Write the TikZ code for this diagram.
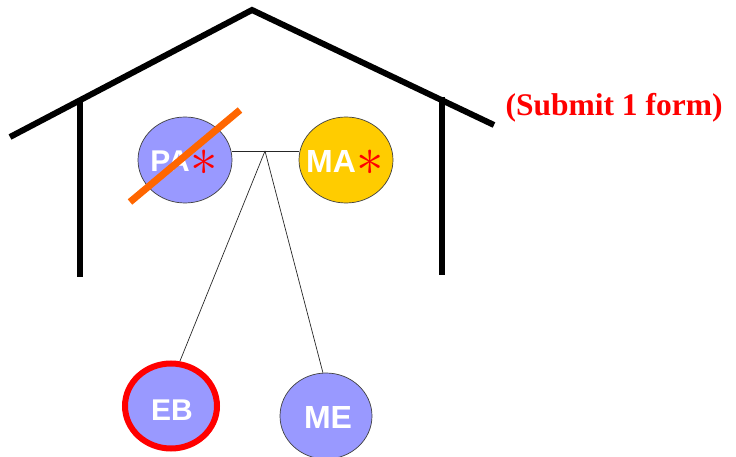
\documentclass[tikz,border=0pt]{standalone}
\usepackage{fontspec}
\setmainfont{Liberation Sans}
\newfontfamily\timesbold{Liberation Serif}[BoldFont={* Bold}]
\usetikzlibrary{shapes.geometric}
\definecolor{lav}{HTML}{9999FF}
\definecolor{gold}{HTML}{FFCC00}
\definecolor{slash}{HTML}{FF6600}
\begin{document}
\begin{tikzpicture}[x=1pt,y=-1pt,
  member/.style={ellipse, draw=black!75, line width=0.7pt, fill=lav, inner sep=0pt},
  lbl/.style={text=white, inner sep=0pt},
  star/.style={text=red, inner sep=0pt, font=\fontsize{24}{24}\selectfont, scale=2.2},
  wall/.style={line width=6pt},
  link/.style={line width=0.7pt, draw=black!85}]
\useasboundingbox (0,0) rectangle (736,457);
% house
\coordinate (rl) at (10,137);
\coordinate (rt) at (252,10);
\coordinate (rr) at (494,125);
\draw[wall, line join=miter] (rl) -- (rt) -- (rr);
\coordinate (lwt) at (80,100);
\coordinate (lwb) at (80,277);
\coordinate (rwt) at (442,97);
\coordinate (rwb) at (442,275);
\draw[wall] (lwt) -- (lwb);
\draw[wall] (rwt) -- (rwb);
% members
\node[member, minimum width=94pt, minimum height=86pt] (pa) at (185,160) {};
\node[member, fill=gold, minimum width=94pt, minimum height=86pt] (ma) at (346,160) {};
\node[member, draw=red, line width=6pt, minimum width=92pt, minimum height=85pt] (eb) at (171,406) {};
\node[member, minimum width=92pt, minimum height=86pt] (me) at (326,416) {};
% labels
\node[lbl, font=\fontsize{30}{30}\selectfont\bfseries] (patxt) at (170,161) {PA};
\node[star] (past) at (204,163) {$\ast$};
\node[lbl, font=\fontsize{32}{32}\selectfont\bfseries] (matxt) at (331,161) {MA};
\node[star] (mast) at (370,163) {$\ast$};
\node[lbl, font=\fontsize{30}{30}\selectfont\bfseries] (ebtxt) at (172,410) {EB};
\node[lbl, font=\fontsize{32}{32}\selectfont\bfseries] (metxt) at (328,417) {ME};
% links
\coordinate (apex) at (265,151);
\draw[link] (pa.east |- apex) -- (ma.west |- apex);
\coordinate (ebtop) at (180,361);
\coordinate (metop) at (323,373);
\draw[link] (apex) -- (ebtop);
\draw[link] (apex) -- (metop);
% slash
\coordinate (s1) at (130,202);
\coordinate (s2) at (240,110);
\draw[slash, line width=7pt] (s1) -- (s2);
% note
\node[text=red, font=\timesbold\fontsize{31.5}{31.5}\selectfont\bfseries] (note) at (614,108) {(Submit 1 form)};
\end{tikzpicture}
\end{document}
